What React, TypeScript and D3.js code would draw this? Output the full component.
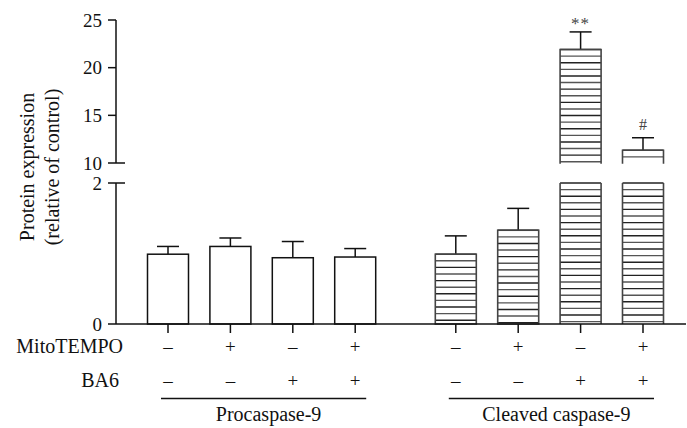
import React from "react";
import * as d3 from "d3";

const groups = ["Procaspase-9", "Cleaved caspase-9"];
const conditions = ["c1", "c2", "c3", "c4"];
const mitoTempo = ["–", "+", "–", "+"];
const ba6 = ["–", "–", "+", "+"];
const procaspaseMeans = [0.99, 1.1, 0.94, 0.95];
const procaspaseErr = [1.1, 1.22, 1.17, 1.07];
const cleavedMeans = [0.99, 1.33, 21.9, 11.33];
const cleavedErr = [1.25, 1.64, 23.75, 12.65];
const cleavedMarks = ["", "", "**", "#"];
const lowerTicks = [0, 2];
const upperTicks = [10, 15, 20, 25];

const W = 687;
const H = 428;
const FONT = "Liberation Serif";

export default function App() {
  const yLow = d3.scaleLinear().domain([0, 2]).range([324, 183]);
  const yUp = d3.scaleLinear().domain([10, 25]).range([163, 20]);
  const xOuter = d3
    .scaleBand<string>()
    .domain(groups)
    .range([136.8, 674.2])
    .paddingInner(0.1327)
    .paddingOuter(0);
  const xInner = d3
    .scaleBand<string>()
    .domain(conditions)
    .range([0, xOuter.bandwidth()])
    .paddingInner(0.343)
    .paddingOuter(0.1715);
  const bw = xInner.bandwidth();
  const axisX = 116;
  const base = yLow(0);
  const capW = 22;
  const hatchStep = 6.6;
  const ts = (size: number): React.CSSProperties => ({ fontFamily: FONT, fontSize: size });

  const yOf = (v: number) => (v <= 2 ? yLow(v) : yUp(v));

  const hatch = (x0: number, x1: number, top: number, bottom: number, key: string) => {
    const ys = d3.range(top, bottom - 1, hatchStep);
    return ys.map((y, i) => (
      <line key={key + i} x1={x0} x2={x1} y1={y} y2={y} stroke={i % 2 ? "#555" : "#222"} strokeWidth={1.4} />
    ));
  };

  const bars: React.ReactNode[] = [];
  groups.forEach((g, gi) => {
    const means = gi === 0 ? procaspaseMeans : cleavedMeans;
    const errs = gi === 0 ? procaspaseErr : cleavedErr;
    conditions.forEach((c, ci) => {
      const x0 = (xOuter(g) as number) + (xInner(c) as number);
      const cx = x0 + bw / 2;
      const m = means[ci];
      const e = errs[ci];
      const key = `${gi}-${ci}`;
      const topY = yOf(m);
      const errY = yOf(e);
      bars.push(
        <g key={"e" + key} stroke="#111" strokeWidth={1.5}>
          <line x1={cx} x2={cx} y1={topY} y2={errY} />
          <line x1={cx - capW / 2} x2={cx + capW / 2} y1={errY} y2={errY} />
        </g>
      );
      if (gi === 0) {
        bars.push(
          <rect key={"b" + key} x={x0} y={topY} width={bw} height={base - topY} fill="#fff" stroke="#111" strokeWidth={1.5} />
        );
      } else if (m <= 2) {
        bars.push(
          <g key={"b" + key}>
            <rect x={x0} y={topY} width={bw} height={base - topY} fill="#fff" />
            {hatch(x0, x0 + bw, topY, base, "h" + key)}
            <rect x={x0} y={topY} width={bw} height={base - topY} fill="none" stroke="#444" strokeWidth={1.6} />
          </g>
        );
      } else {
        const lowTop = yLow(2);
        const upBottom = yUp(10) + 0.7;
        bars.push(
          <g key={"b" + key}>
            <rect x={x0} y={lowTop} width={bw} height={base - lowTop} fill="#fff" />
            {hatch(x0, x0 + bw, lowTop, base, "hl" + key)}
            <rect x={x0} y={topY} width={bw} height={upBottom - topY} fill="#fff" />
            {hatch(x0, x0 + bw, topY, upBottom, "hu" + key)}
            <g stroke="#444" strokeWidth={1.6} fill="none">
              <path d={`M${x0},${base}V${lowTop}M${x0 + bw},${base}V${lowTop}`} />
              <path d={`M${x0},${upBottom}V${topY}H${x0 + bw}V${upBottom}`} />
            </g>
          </g>
        );
      }
      if (gi === 1 && cleavedMarks[ci]) {
        const isStar = cleavedMarks[ci] === "**";
        bars.push(
          <text
            key={"m" + key}
            x={cx}
            y={errY - (isStar ? 3 : 8)}
            textAnchor="middle"
            style={ts(isStar ? 17 : 16)}
            fill="#444"
            letterSpacing={isStar ? 1 : 0}
          >
            {cleavedMarks[ci]}
          </text>
        );
      }
    });
  });

  const centers: { cx: number; gi: number; ci: number }[] = [];
  groups.forEach((g, gi) =>
    conditions.forEach((c, ci) =>
      centers.push({ cx: (xOuter(g) as number) + (xInner(c) as number) + bw / 2, gi, ci })
    )
  );

  return (
    <svg width={W} height={H} style={{ position: "absolute", left: 0, top: 0, background: "#fff" }}>
      <rect width={W} height={H} fill="#fff" />
      {bars}
      <g stroke="#111" strokeWidth={1.5}>
        <line x1={axisX} x2={axisX} y1={yUp(25)} y2={yUp(10)} />
        <line x1={axisX} x2={axisX} y1={yLow(2)} y2={base} />
        {upperTicks.map((t) => (
          <line key={"ut" + t} x1={axisX - 8} x2={t === 10 ? axisX + 9 : axisX} y1={yUp(t)} y2={yUp(t)} />
        ))}
        {lowerTicks.map((t) => (
          <line key={"lt" + t} x1={axisX - 8} x2={t === 2 ? axisX + 9 : axisX} y1={yLow(t)} y2={yLow(t)} />
        ))}
        <line x1={axisX} x2={686} y1={base} y2={base} />
        {centers.map((c) => (
          <line key={"xt" + c.gi + c.ci} x1={c.cx} x2={c.cx} y1={base} y2={base + 9} />
        ))}
      </g>
      {upperTicks.map((t) => (
        <text key={"ul" + t} x={axisX - 14} y={yUp(t)} dy="0.35em" textAnchor="end" style={ts(19)} fill="#111">
          {t}
        </text>
      ))}
      {lowerTicks.map((t) => (
        <text key={"ll" + t} x={axisX - 14} y={yLow(t)} dy="0.35em" textAnchor="end" style={ts(19)} fill="#111">
          {t}
        </text>
      ))}
      <text transform="translate(34,167) rotate(-90)" textAnchor="middle" style={ts(20)} fill="#111">
        Protein expression
      </text>
      <text transform="translate(59,167) rotate(-90)" textAnchor="middle" style={ts(20)} fill="#111">
        (relative of control)
      </text>
      <text x={123} y={353} textAnchor="end" style={ts(20)} fill="#111">MitoTEMPO</text>
      <text x={119} y={387} textAnchor="end" style={ts(20)} fill="#111">BA6</text>
      {centers.map((c) => (
        <g key={"s" + c.gi + c.ci}>
          <text x={c.cx} y={353} textAnchor="middle" style={ts(19)} fill="#111">{mitoTempo[c.ci]}</text>
          <text x={c.cx} y={387} textAnchor="middle" style={ts(19)} fill="#111">{ba6[c.ci]}</text>
        </g>
      ))}
      {groups.map((g, gi) => {
        const gx = xOuter(g) as number;
        const first = gx + (xInner(conditions[0]) as number) + bw / 2;
        const last = gx + (xInner(conditions[3]) as number) + bw / 2;
        return (
          <g key={"gl" + gi}>
            <line x1={first - 7} x2={last + 11} y1={398.5} y2={398.5} stroke="#111" strokeWidth={1.5} />
            <text x={(first + last) / 2 + 7} y={421} textAnchor="middle" style={ts(20)} fill="#111">
              {g}
            </text>
          </g>
        );
      })}
    </svg>
  );
}
